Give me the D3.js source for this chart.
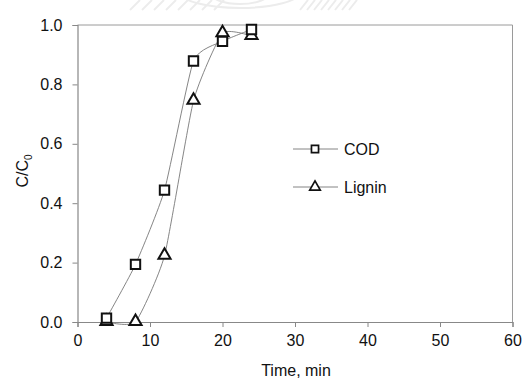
<!DOCTYPE html>
<html>
<head>
<meta charset="utf-8">
<script src="https://cdn.jsdelivr.net/npm/d3@7"></script>
<style>
  html, body { margin: 0; padding: 0; background: #fff; }
  svg { display: block; }
  text { font-family: "Liberation Sans", Arial, sans-serif; fill: #111; }
</style>
</head>
<body>
<svg id="chart" width="523" height="381"></svg>
<script>
// Breakthrough data: normalised concentration vs. time
const time = [4, 8, 12, 16, 20, 24];
const cod = [0.013, 0.194, 0.444, 0.879, 0.945, 0.985];
const lignin = [0.0, 0.0, 0.223, 0.745, 0.972, 0.963];
const xTicks = [0, 10, 20, 30, 40, 50, 60];
const yTicks = [0, 0.2, 0.4, 0.6, 0.8, 1.0];
const seriesNames = ["COD", "Lignin"];

const svg = d3.select("#chart");
const margin = { left: 77.5, right: 10.5, top: 25, bottom: 59 };
const W = 523, H = 381;

const x = d3.scaleLinear().domain([0, 60]).range([margin.left, W - margin.right]);
const y = d3.scaleLinear().domain([0, 1]).range([H - margin.bottom, margin.top]);

// faint seal watermark along the top edge
const wm = svg.append("g").attr("stroke", "#ececec").attr("fill", "none").attr("stroke-width", 2);
wm.append("ellipse").attr("cx", 240).attr("cy", -8).attr("rx", 60).attr("ry", 16);
wm.append("ellipse").attr("cx", 240).attr("cy", -8).attr("rx", 30).attr("ry", 12);
for (let i = 0; i < 8; i++) {
  wm.append("line").attr("x1", 130 + i * 12).attr("y1", 10).attr("x2", 140 + i * 12).attr("y2", 0);
  wm.append("line").attr("x1", 300 + i * 7).attr("y1", 10).attr("x2", 308 + i * 7).attr("y2", 0);
}

// plot frame (top and right)
svg.append("path")
  .attr("d", `M${x(0)},${y(1)}H${x(60)}V${y(0)}`)
  .attr("fill", "none").attr("stroke", "#9a9a9a").attr("stroke-width", 1);

// axes
const xAxis = svg.append("g")
  .attr("transform", `translate(0,${y(0)})`)
  .call(d3.axisBottom(x).tickValues(xTicks).tickSize(5).tickPadding(4).tickFormat(d3.format("d")));
const yAxis = svg.append("g")
  .attr("transform", `translate(${x(0)},0)`)
  .call(d3.axisLeft(y).tickValues(yTicks).tickSize(5).tickPadding(10).tickFormat(d3.format(".1f")));

[xAxis, yAxis].forEach(g => {
  g.select(".domain").attr("stroke", "#888").attr("stroke-width", 1.2);
  g.selectAll(".tick line").attr("stroke", "#888");
  g.selectAll(".tick text").attr("font-size", 16).attr("fill", "#111")
    .attr("font-family", "Liberation Sans, Arial, sans-serif");
});
xAxis.selectAll(".tick text").attr("dy", "0.95em");

// axis titles
svg.append("text").attr("x", (x(0) + x(60)) / 2 + 1).attr("y", 376)
  .attr("text-anchor", "middle").attr("font-size", 16).text("Time, min");

const yt = svg.append("text")
  .attr("transform", `translate(28,${171}) rotate(-90)`)
  .attr("text-anchor", "middle").attr("font-size", 16);
yt.append("tspan").text("C/C");
yt.append("tspan").attr("font-size", 10).attr("dy", 4).text("0");

// lightly smoothed connecting lines
const line = d3.line().x(d => x(d[0])).y(d => y(d[1])).curve(d3.curveCardinal.tension(0.5));
const codPts = time.map((t, i) => [t, cod[i]]);
const ligPts = time.map((t, i) => [t, lignin[i]]);

[codPts, ligPts].forEach(pts => {
  svg.append("path").attr("d", line(pts))
    .attr("fill", "none").attr("stroke", "#777").attr("stroke-width", 0.9);
});

const sq = d3.symbol().type(d3.symbolSquare);
const tri = d3.symbol().type(d3.symbolTriangle);

// markers
svg.append("g").selectAll("path").data(ligPts).join("path")
  .attr("d", tri.size(64)())
  .attr("transform", d => `translate(${x(d[0])},${y(d[1]) - 0.5})`)
  .attr("fill", "#fff").attr("stroke", "#111").attr("stroke-width", 2);
svg.append("g").selectAll("path").data(codPts).join("path")
  .attr("d", sq.size(88)())
  .attr("transform", d => `translate(${x(d[0])},${y(d[1])})`)
  .attr("fill", "#fff").attr("stroke", "#111").attr("stroke-width", 2);

// legend
const legend = svg.append("g");
seriesNames.forEach((name, i) => {
  const ly = 149 + i * 38;
  const g = legend.append("g").attr("transform", `translate(0,${ly})`);
  g.append("line").attr("x1", 293).attr("x2", 338).attr("y1", 0).attr("y2", 0)
    .attr("stroke", "#777").attr("stroke-width", 0.9);
  g.append("path")
    .attr("d", (i === 0 ? sq.size(50) : tri.size(48))())
    .attr("transform", `translate(315,0)`)
    .attr("fill", "#fff").attr("stroke", "#111").attr("stroke-width", 1.7);
  g.append("text").attr("x", 344).attr("y", 0).attr("dy", "0.36em")
    .attr("font-size", 16).text(name);
});
</script>
</body>
</html>
